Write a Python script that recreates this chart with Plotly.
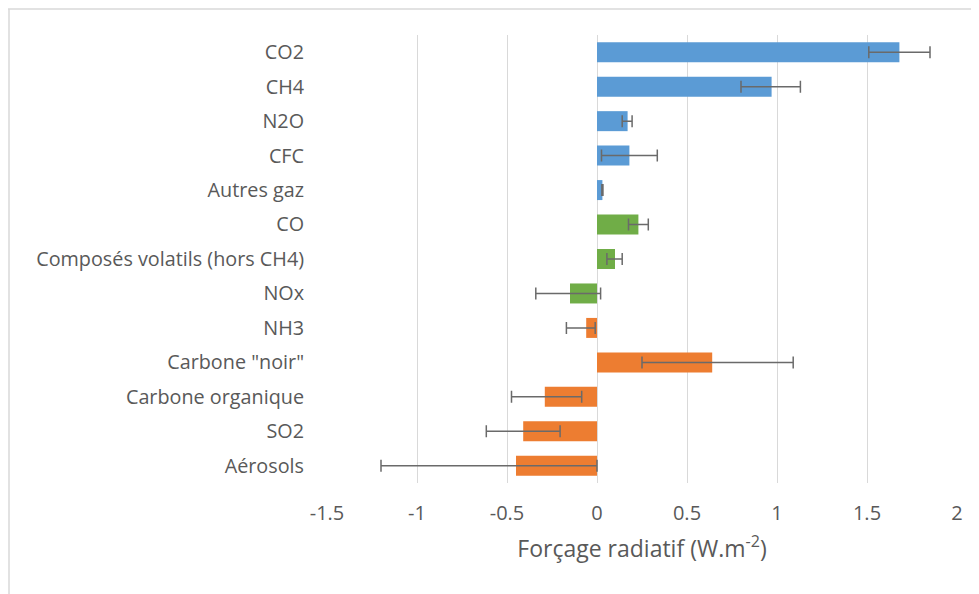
import plotly.graph_objects as go

categories = ["CO2", "CH4", "N2O", "CFC", "Autres gaz", "CO",
              "Composés volatils (hors CH4)", "NOx", "NH3",
              "Carbone \"noir\"", "Carbone organique", "SO2", "Aérosols"]
values = [1.68, 0.97, 0.17, 0.18, 0.03, 0.23, 0.10, -0.15, -0.06, 0.64, -0.29, -0.41, -0.45]
err_plus = [0.17, 0.16, 0.025, 0.155, 0.003, 0.055, 0.04, 0.17, 0.05, 0.45, 0.205, 0.205, 0.45]
err_minus = [0.17, 0.17, 0.03, 0.155, 0.003, 0.055, 0.045, 0.19, 0.11, 0.39, 0.185, 0.205, 0.75]
groups = ["gaz", "gaz", "gaz", "gaz", "gaz", "prec", "prec", "prec",
          "aer", "aer", "aer", "aer", "aer"]
group_colors = {"gaz": "#5B9BD5", "prec": "#70AD47", "aer": "#ED7D31"}
tick_vals = [-1.5, -1, -0.5, 0, 0.5, 1, 1.5, 2]
tick_text = ["-1.5", "-1", "-0.5", "0", "0.5", "1", "1.5", "2"]

FONT = "Open Sans"
TXT = "#595959"

fig = go.Figure(go.Bar(
    y=categories, x=values, orientation="h",
    marker=dict(color=[group_colors[g] for g in groups], line=dict(width=0)),
    error_x=dict(type="data", symmetric=False, array=err_plus, arrayminus=err_minus,
                 color="#6A6A6A", thickness=1.5, width=6),
    width=0.58,
))

# page is rendered with an 8px body offset
OFF = 8
W, H = 979 - OFF, 594 - OFF
L, R, T = 327 - OFF, 22, 35 - OFF
B = H - (483 - OFF)
pw = W - L - R
ph = H - T - B

def px_to_paper_x(px):
    return (px - OFF - L) / pw

def px_to_paper_y(py):
    return (H - B - (py - OFF)) / ph

fig.update_layout(
    width=W, height=H,
    margin=dict(l=L, r=R, t=T, b=B),
    paper_bgcolor="white", plot_bgcolor="white",
    showlegend=False,
    font=dict(family=FONT, size=19, color=TXT),
    xaxis=dict(range=[-1.5, 2], tickvals=tick_vals, ticktext=tick_text,
               showgrid=True, gridcolor="#D9D9D9", gridwidth=1.3,
               zeroline=True, zerolinecolor="#D9D9D9", zerolinewidth=1.3,
               ticks="outside", ticklen=12, tickcolor="rgba(0,0,0,0)",
               tickfont=dict(size=20, color=TXT, family=FONT),
               title=dict(text="Forçage radiatif (W.m<sup>-2</sup>)",
                          font=dict(size=23, color=TXT, family=FONT), standoff=15),
               showline=False, fixedrange=True),
    yaxis=dict(autorange="reversed", showgrid=False, showline=False,
               ticks="outside", ticklen=18, tickcolor="rgba(0,0,0,0)",
               tickfont=dict(size=19.8, color=TXT, family=FONT), fixedrange=True),
    bargap=0.42,
    shapes=[
        dict(type="line", xref="paper", yref="paper",
             x0=px_to_paper_x(8), x1=px_to_paper_x(985),
             y0=px_to_paper_y(9), y1=px_to_paper_y(9),
             line=dict(color="#D9D9D9", width=1.5)),
        dict(type="line", xref="paper", yref="paper",
             x0=px_to_paper_x(9), x1=px_to_paper_x(9),
             y0=px_to_paper_y(9), y1=px_to_paper_y(600),
             line=dict(color="#D9D9D9", width=1.5)),
    ],
)

fig.write_html("out.html", config={"displayModeBar": False})
